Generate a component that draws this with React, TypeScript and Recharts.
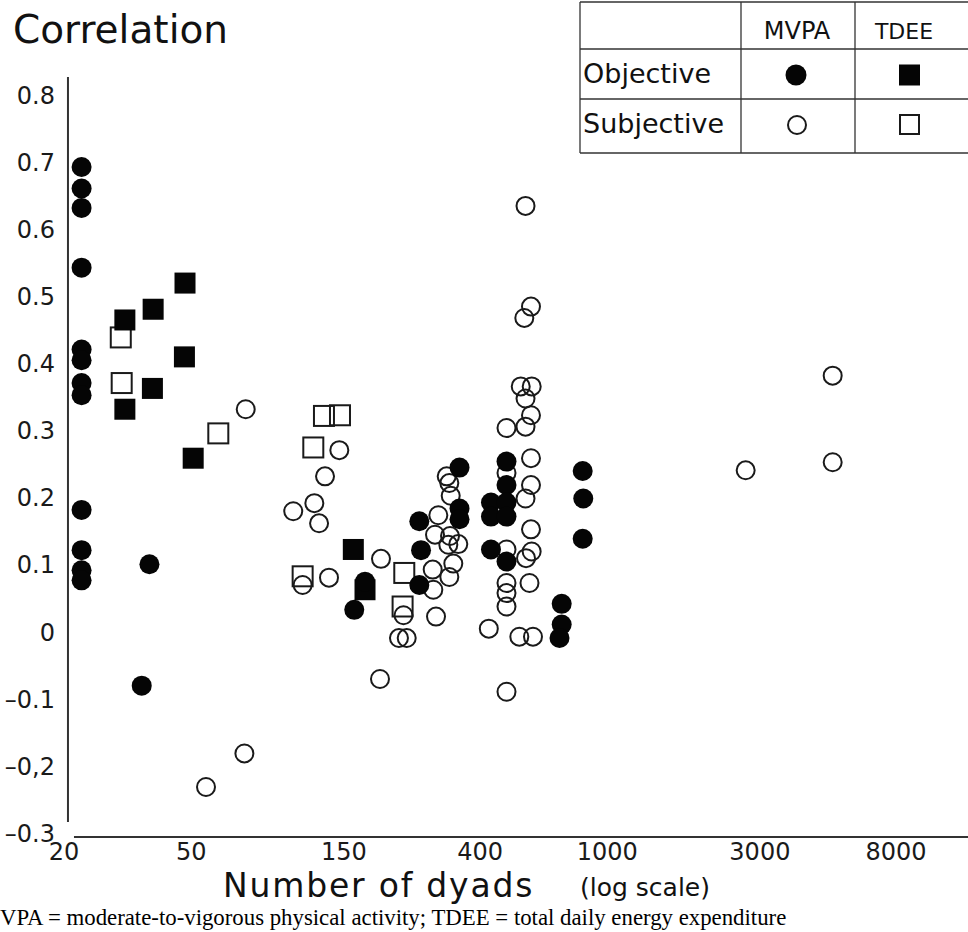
import React from 'react';
import { ScatterChart, Scatter, XAxis, YAxis, ReferenceLine } from 'recharts';

// ---- axis ticks ----
const xTicks = [20, 50, 150, 400, 1000, 3000, 8000];
const xTickLabels = ['20', '50', '150', '400', '1000', '3000', '8000'];
const yTicks = [0.8, 0.7, 0.6, 0.5, 0.4, 0.3, 0.2, 0.1, 0, -0.1, -0.2, -0.3];
const yTickLabels = ['0.8', '0.7', '0.6', '0.5', '0.4', '0.3', '0.2', '0.1', '0', '\u20130.1', '\u20130,2', '\u20130.3'];

// ---- series: n = number of dyads, r = correlation ----
const objectiveMvpa = [
  { n: 22.7, r: 0.693 }, { n: 22.7, r: 0.661 }, { n: 22.7, r: 0.632 }, { n: 22.7, r: 0.543 },
  { n: 22.7, r: 0.421 }, { n: 22.7, r: 0.405 }, { n: 22.7, r: 0.371 }, { n: 22.7, r: 0.353 },
  { n: 22.7, r: 0.182 }, { n: 22.7, r: 0.122 }, { n: 22.7, r: 0.092 }, { n: 22.7, r: 0.077 },
  { n: 37.0, r: 0.101 }, { n: 35.0, r: -0.08 },
  { n: 258.3, r: 0.165 }, { n: 261.5, r: 0.122 }, { n: 258.3, r: 0.07 },
  { n: 345, r: 0.245 }, { n: 345, r: 0.184 }, { n: 345, r: 0.168 },
  { n: 174.7, r: 0.075 }, { n: 161.7, r: 0.033 },
  { n: 483.9, r: 0.254 }, { n: 483.9, r: 0.219 }, { n: 432.7, r: 0.193 }, { n: 483.9, r: 0.193 },
  { n: 432.7, r: 0.172 }, { n: 483.9, r: 0.172 }, { n: 432.7, r: 0.123 }, { n: 483.9, r: 0.105 },
  { n: 837.5, r: 0.24 }, { n: 841, r: 0.199 }, { n: 837.5, r: 0.139 },
  { n: 720, r: 0.042 }, { n: 720, r: 0.011 }, { n: 708.8, r: -0.009 },
];

const objectiveTdee = [
  { n: 47.8, r: 0.52 }, { n: 38.0, r: 0.481 }, { n: 31.0, r: 0.465 }, { n: 47.6, r: 0.41 },
  { n: 37.8, r: 0.363 }, { n: 31.0, r: 0.332 }, { n: 50.7, r: 0.259 }, { n: 160.6, r: 0.123 },
  { n: 174.7, r: 0.063 },
];

const subjectiveMvpa = [
  { n: 74.0, r: 0.332 }, { n: 73.3, r: -0.181 }, { n: 55.6, r: -0.231 },
  { n: 145.2, r: 0.271 }, { n: 131.0, r: 0.232 }, { n: 121.3, r: 0.192 }, { n: 104.2, r: 0.18 },
  { n: 125.5, r: 0.162 }, { n: 196.0, r: 0.109 }, { n: 111.5, r: 0.07 }, { n: 134.8, r: 0.081 },
  { n: 230.5, r: 0.025 }, { n: 223.1, r: -0.009 }, { n: 235.9, r: -0.009 }, { n: 194.6, r: -0.07 },
  { n: 314.6, r: 0.232 }, { n: 320.6, r: 0.222 }, { n: 323.8, r: 0.203 }, { n: 296.2, r: 0.174 },
  { n: 289.2, r: 0.145 }, { n: 322.2, r: 0.143 }, { n: 342, r: 0.131 }, { n: 318.3, r: 0.13 },
  { n: 329.9, r: 0.102 }, { n: 284.4, r: 0.093 }, { n: 320.6, r: 0.082 }, { n: 285.7, r: 0.063 },
  { n: 291.3, r: 0.023 },
  { n: 483.9, r: 0.237 }, { n: 483.9, r: 0.123 }, { n: 483.9, r: 0.073 }, { n: 483.9, r: 0.058 },
  { n: 483.9, r: 0.038 }, { n: 426, r: 0.005 }, { n: 483.9, r: -0.089 },
  { n: 577.2, r: 0.259 }, { n: 577.2, r: 0.219 }, { n: 554.9, r: 0.199 }, { n: 577.2, r: 0.153 },
  { n: 580, r: 0.12 }, { n: 556.9, r: 0.11 }, { n: 571, r: 0.073 }, { n: 530.7, r: -0.007 },
  { n: 585.6, r: -0.007 },
  { n: 554.9, r: 0.635 }, { n: 577.2, r: 0.485 }, { n: 550.1, r: 0.468 }, { n: 536.1, r: 0.366 },
  { n: 580.2, r: 0.366 }, { n: 554.9, r: 0.348 }, { n: 577.2, r: 0.323 }, { n: 483.9, r: 0.304 },
  { n: 554.9, r: 0.306 },
  { n: 2708, r: 0.241 }, { n: 5067, r: 0.382 }, { n: 5067, r: 0.253 },
];

const subjectiveTdee = [
  { n: 30.1, r: 0.439 }, { n: 30.3, r: 0.371 }, { n: 60.75, r: 0.296 }, { n: 130.0, r: 0.322 },
  { n: 145.9, r: 0.323 }, { n: 120.4, r: 0.275 }, { n: 111.5, r: 0.083 }, { n: 231.8, r: 0.088 },
  { n: 229, r: 0.038 },
];

const X_DOMAIN: [number, number] = [20, 13424];
const Y_DOMAIN: [number, number] = [-0.3055, 0.8271];

const FONT = "'DejaVu Sans', sans-serif";
const INK = '#111';

const filledCircle = (p: any) => <circle cx={p.cx} cy={p.cy} r={10} fill="#050505" />;
const openCircle = (p: any) => (
  <circle cx={p.cx} cy={p.cy} r={9} fill="none" stroke="#1a1a1a" strokeWidth={2} />
);
const filledSquare = (p: any) => (
  <rect x={p.cx - 10.5} y={p.cy - 10.5} width={21} height={21} fill="#050505" />
);
const openSquare = (p: any) => (
  <rect x={p.cx - 10} y={p.cy - 10} width={20} height={20} fill="none" stroke="#1a1a1a" strokeWidth={2} />
);

const fmtX = (v: number) => {
  const i = xTicks.findIndex((t) => Math.abs(t - v) < 1e-6);
  return i >= 0 ? xTickLabels[i] : String(v);
};
const fmtY = (v: number) => {
  const i = yTicks.findIndex((t) => Math.abs(t - v) < 1e-6);
  return i >= 0 ? yTickLabels[i] : String(v);
};

const Overlay = () => (
  <svg
    width={968}
    height={932}
    style={{ position: 'absolute', left: 0, top: 0, pointerEvents: 'none' }}
  >
    {/* title */}
    <text x={13} y={43} fontFamily={FONT} fontSize={39} fill={INK}>
      Correlation
    </text>
    {/* x axis title */}
    <text x={223} y={897} fontFamily={FONT} fontSize={33} letterSpacing={1.8} fill={INK}>
      Number of dyads
    </text>
    <text x={580} y={896} fontFamily={FONT} fontSize={25} fill={INK}>
      (log scale)
    </text>
    {/* footnote */}
    <text x={0} y={925} fontFamily="'Liberation Serif', 'Times New Roman', serif" fontSize={22.8} fill="#000">
      VPA = moderate-to-vigorous physical activity; TDEE = total daily energy expenditure
    </text>

    {/* legend table */}
    <g stroke="#333" strokeWidth={1.3}>
      <line x1={580} y1={2} x2={968} y2={2} />
      <line x1={580} y1={49} x2={968} y2={49} />
      <line x1={580} y1={99} x2={968} y2={99} />
      <line x1={580} y1={153} x2={968} y2={153} />
      <line x1={580} y1={2} x2={580} y2={153} />
      <line x1={741} y1={2} x2={741} y2={153} />
      <line x1={855} y1={2} x2={855} y2={153} />
    </g>
    <text x={797} y={39} textAnchor="middle" fontFamily={FONT} fontSize={24} fill={INK}>
      MVPA
    </text>
    <text x={904} y={39} textAnchor="middle" fontFamily={FONT} fontSize={22} fill={INK}>
      TDEE
    </text>
    <text x={583} y={83} fontFamily={FONT} fontSize={27} fill={INK}>
      Objective
    </text>
    <text x={583} y={133} fontFamily={FONT} fontSize={27} fill={INK}>
      Subjective
    </text>
    <circle cx={796} cy={75} r={10.5} fill="#050505" />
    <rect x={899} y={64.5} width={21} height={21} fill="#050505" />
    <circle cx={797} cy={125} r={9} fill="none" stroke="#1a1a1a" strokeWidth={2} />
    <rect x={900} y={115} width={19} height={19} fill="none" stroke="#1a1a1a" strokeWidth={2} />
  </svg>
);

export default function App() {
  const tickStyle = { fontSize: 24, fill: '#1a1a1a', fontFamily: FONT };
  return (
    <div
      style={{
        position: 'absolute',
        left: 0,
        top: 0,
        width: 968,
        height: 932,
        overflow: 'hidden',
        background: '#fff',
      }}
    >
      <ScatterChart width={968} height={932} margin={{ top: 77, right: 0, bottom: 0, left: 0 }}>
        <XAxis
          dataKey="n"
          type="number"
          scale="log"
          domain={X_DOMAIN}
          allowDataOverflow
          ticks={xTicks}
          interval={0}
          tickFormatter={fmtX}
          axisLine={false}
          tickLine={false}
          tickSize={0}
          tickMargin={6}
          height={95}
          tick={tickStyle}
        />
        <YAxis
          dataKey="r"
          type="number"
          domain={Y_DOMAIN}
          allowDataOverflow
          ticks={yTicks}
          interval={0}
          tickFormatter={fmtY}
          axisLine={false}
          tickLine={false}
          tickSize={0}
          tickMargin={9}
          width={64}
          tick={tickStyle}
        />
        <ReferenceLine
          segment={[{ x: 20.58, y: -0.2832 }, { x: 20.58, y: 0.8271 }]}
          stroke="#333"
          strokeWidth={2}
          ifOverflow="visible"
        />
        <ReferenceLine
          segment={[{ x: 21.49, y: -0.3055 }, { x: 13424, y: -0.3055 }]}
          stroke="#333"
          strokeWidth={2}
          ifOverflow="visible"
        />
        <Scatter name="Subjective TDEE" data={subjectiveTdee} shape={openSquare} isAnimationActive={false} />
        <Scatter name="Subjective MVPA" data={subjectiveMvpa} shape={openCircle} isAnimationActive={false} />
        <Scatter name="Objective TDEE" data={objectiveTdee} shape={filledSquare} isAnimationActive={false} />
        <Scatter name="Objective MVPA" data={objectiveMvpa} shape={filledCircle} isAnimationActive={false} />
      </ScatterChart>
      <Overlay />
    </div>
  );
}
